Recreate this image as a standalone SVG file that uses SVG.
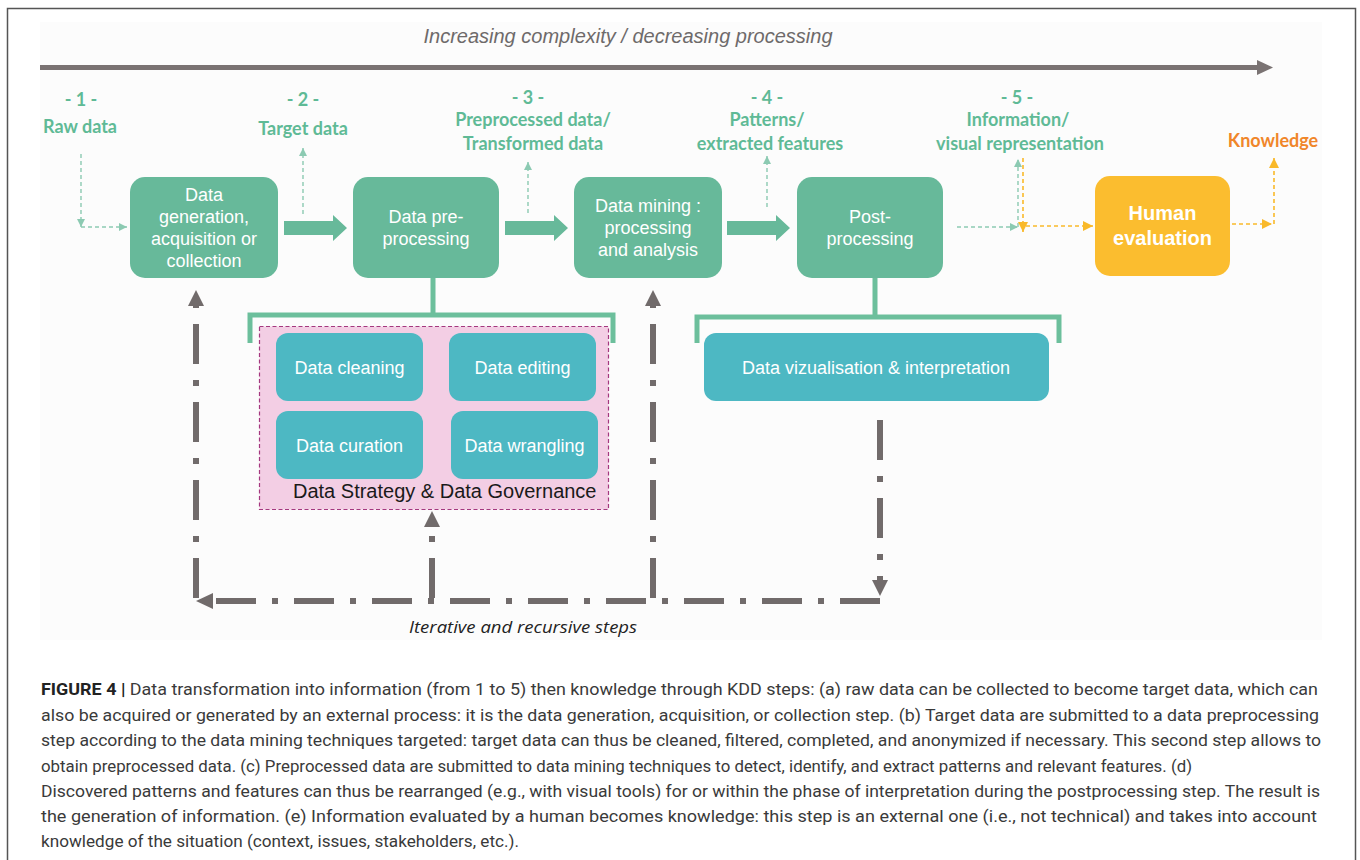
<svg xmlns="http://www.w3.org/2000/svg" width="1360" height="860" viewBox="0 0 1360 860">
<defs>
<style>
.node{fill:#67b99a}
.ntx{font-family:"Liberation Sans",Arial,sans-serif;font-size:18px;fill:#ffffff;text-anchor:middle}
.lbl{font-family:Lato,"Open Sans",sans-serif;font-weight:bold;font-size:18px;fill:#5fba96;text-anchor:middle}
.sub{fill:#4db8c3}
.gdash{fill:none;stroke:#8ccab2;stroke-width:1.4;stroke-dasharray:4 3}
.odash{fill:none;stroke:#f9b92a;stroke-width:1.6;stroke-dasharray:4 3}
.brk{fill:none;stroke:#6cbf9c;stroke-width:5}
.loop{fill:none;stroke:#716b6b;stroke-width:6;stroke-dasharray:40 16 6 16}
.ahead{fill:#716b6b}
.thick{fill:#67b99a}
.cap{font-family:Roboto,"Liberation Sans",sans-serif;font-size:17px;fill:#3a3a3a}
</style>
<marker id="mg" viewBox="0 0 10 10" refX="10" refY="5" markerWidth="8" markerHeight="8" markerUnits="userSpaceOnUse" orient="auto"><path d="M0,0 L10,5 L0,10 z" fill="#8ccab2"/></marker>
<marker id="mo" viewBox="0 0 10 10" refX="10" refY="5" markerWidth="10" markerHeight="10" markerUnits="userSpaceOnUse" orient="auto"><path d="M0,0 L10,5 L0,10 z" fill="#f9b92a"/></marker>
</defs>
<rect x="0" y="0" width="1360" height="860" fill="#ffffff"/>
<rect x="7.5" y="8.5" width="1348" height="870" fill="none" stroke="#555555" stroke-width="1.5"/>
<rect x="40" y="22" width="1282" height="618" fill="#fcfcfc"/>

<g id="title">
<text x="628" y="43" font-family="Liberation Sans,Arial,sans-serif" font-style="italic" font-size="20" fill="#6e6a6a" text-anchor="middle">Increasing complexity / decreasing processing</text>
<line x1="40" y1="67.5" x2="1258" y2="67.5" stroke="#7a7373" stroke-width="5"/>
<polygon points="1257,60 1273,67.5 1257,75" fill="#7a7373"/>
</g>

<g id="labels">
<text class="lbl" x="81" y="106">- 1 -</text>
<text class="lbl" x="80" y="133">Raw data</text>
<text class="lbl" x="303" y="106">- 2 -</text>
<text class="lbl" x="303" y="135">Target data</text>
<text class="lbl" x="528" y="104">- 3 -</text>
<text class="lbl" x="533" y="126">Preprocessed data/</text>
<text class="lbl" x="533" y="150">Transformed data</text>
<text class="lbl" x="767" y="104">- 4 -</text>
<text class="lbl" x="767" y="126">Patterns/</text>
<text class="lbl" x="770" y="150">extracted features</text>
<text class="lbl" x="1017" y="104">- 5 -</text>
<text class="lbl" x="1018" y="126">Information/</text>
<text class="lbl" x="1020" y="150">visual representation</text>
<text class="lbl" x="1273" y="147" style="fill:#f0862a">Knowledge</text>
</g>

<g id="node-generation">
<rect class="node" x="130" y="177" width="148" height="101" rx="15"/>
<text class="ntx" x="204" y="201">Data</text>
<text class="ntx" x="204" y="223">generation,</text>
<text class="ntx" x="204" y="245">acquisition or</text>
<text class="ntx" x="204" y="267">collection</text>
</g>
<g id="node-preprocessing">
<rect class="node" x="353" y="177" width="146" height="101" rx="15"/>
<text class="ntx" x="426" y="223">Data pre-</text>
<text class="ntx" x="426" y="245">processing</text>
</g>
<g id="node-mining">
<rect class="node" x="574" y="177" width="148" height="101" rx="15"/>
<text class="ntx" x="648" y="212">Data mining :</text>
<text class="ntx" x="648" y="234">processing</text>
<text class="ntx" x="648" y="256">and analysis</text>
</g>
<g id="node-postprocessing">
<rect class="node" x="797" y="177" width="146" height="101" rx="15"/>
<text class="ntx" x="870" y="223">Post-</text>
<text class="ntx" x="870" y="245">processing</text>
</g>
<g id="node-human">
<rect x="1095" y="176" width="135" height="100" rx="15" fill="#fbbd2f"/>
<text x="1162.5" y="220" font-family="Liberation Sans,Arial,sans-serif" font-weight="bold" font-size="20" fill="#ffffff" text-anchor="middle">Human</text>
<text x="1162.5" y="245" font-family="Liberation Sans,Arial,sans-serif" font-weight="bold" font-size="20" fill="#ffffff" text-anchor="middle">evaluation</text>
</g>

<g id="governance">
<rect x="259.5" y="326.5" width="349" height="183" fill="#f3cee4" stroke="#a4387f" stroke-width="1.2" stroke-dasharray="4 2.5"/>
<text x="293" y="498" font-family="Liberation Sans,Arial,sans-serif" font-size="20" fill="#1a1a1a">Data Strategy &amp; Data Governance</text>
</g>
<g id="node-cleaning">
<rect class="sub" x="276" y="333" width="147" height="68" rx="12"/>
<text class="ntx" x="349.5" y="374">Data cleaning</text>
</g>
<g id="node-editing">
<rect class="sub" x="449" y="333" width="147" height="68" rx="12"/>
<text class="ntx" x="522.5" y="374">Data editing</text>
</g>
<g id="node-curation">
<rect class="sub" x="276" y="411" width="147" height="68" rx="12"/>
<text class="ntx" x="349.5" y="452">Data curation</text>
</g>
<g id="node-wrangling">
<rect class="sub" x="451" y="411" width="147" height="68" rx="12"/>
<text class="ntx" x="524.5" y="452">Data wrangling</text>
</g>
<g id="node-visualisation">
<rect class="sub" x="704" y="333" width="345" height="68" rx="12"/>
<text class="ntx" x="876" y="374">Data vizualisation &amp; interpretation</text>
</g>

<g id="connectors">
<polygon class="thick" points="284,221 333,221 333,215 347,228 333,241 333,235 284,235"/>
<polygon class="thick" points="505,221 554,221 554,215 568,228 554,241 554,235 505,235"/>
<polygon class="thick" points="727,221 776,221 776,215 790,228 776,241 776,235 727,235"/>
<path class="gdash" d="M81,154 V227" marker-end="url(#mg)"/>
<path class="gdash" d="M81,227 H127" marker-end="url(#mg)"/>
<path class="gdash" d="M303,214 V148" marker-end="url(#mg)"/>
<path class="gdash" d="M528,213 V162" marker-end="url(#mg)"/>
<path class="gdash" d="M767,207 V156" marker-end="url(#mg)"/>
<path class="gdash" d="M957,227 H1018" marker-end="url(#mg)"/>
<path class="gdash" d="M1018,227 V159" marker-end="url(#mg)"/>
<path class="odash" d="M1023,158 V232" marker-end="url(#mo)"/>
<path class="odash" d="M1026,226 H1093" marker-end="url(#mo)"/>
<path class="odash" d="M1232,224 H1272" marker-end="url(#mo)"/>
<path class="odash" d="M1274,224 V158" marker-end="url(#mo)"/>
<path class="brk" d="M433,278 V315"/>
<path class="brk" d="M250,343 V315 H613 V343"/>
<path class="brk" d="M875,278 V317"/>
<path class="brk" d="M697,343 V317 H1059 V343"/>
<path class="loop" d="M880,420 V582"/>
<polygon class="ahead" points="872,580 888,580 880,596"/>
<path class="loop" d="M880,601 H212"/>
<polygon class="ahead" points="213,593 213,609 196,601"/>
<path class="loop" d="M196,598 V306"/>
<polygon class="ahead" points="188,306 204,306 196,290"/>
<path class="loop" d="M653,598 V306"/>
<polygon class="ahead" points="645,306 661,306 653,290"/>
<path class="loop" d="M432,598 V527"/>
<polygon class="ahead" points="424,527 440,527 432,511"/>
</g>

<text x="523" y="633" font-family="Open Sans,Noto Sans,sans-serif" font-style="italic" font-size="16" fill="#222222" text-anchor="middle" textLength="228" lengthAdjust="spacingAndGlyphs">Iterative and recursive steps</text>

<g id="caption">
<text class="cap" x="41" y="695" textLength="1277" lengthAdjust="spacingAndGlyphs"><tspan font-weight="bold" fill="#222222">FIGURE 4 |</tspan> Data transformation into information (from 1 to 5) then knowledge through KDD steps: (a) raw data can be collected to become target data, which can</text>
<text class="cap" x="41" y="720.5" textLength="1278" lengthAdjust="spacingAndGlyphs">also be acquired or generated by an external process: it is the data generation, acquisition, or collection step. (b) Target data are submitted to a data preprocessing</text>
<text class="cap" x="41" y="746" textLength="1280" lengthAdjust="spacingAndGlyphs">step according to the data mining techniques targeted: target data can thus be cleaned, filtered, completed, and anonymized if necessary. This second step allows to</text>
<text class="cap" x="41" y="771.5" textLength="1151" lengthAdjust="spacingAndGlyphs">obtain preprocessed data. (c) Preprocessed data are submitted to data mining techniques to detect, identify, and extract patterns and relevant features. (d)</text>
<text class="cap" x="41" y="797" textLength="1279" lengthAdjust="spacingAndGlyphs">Discovered patterns and features can thus be rearranged (e.g., with visual tools) for or within the phase of interpretation during the postprocessing step. The result is</text>
<text class="cap" x="41" y="822" textLength="1276" lengthAdjust="spacingAndGlyphs">the generation of information. (e) Information evaluated by a human becomes knowledge: this step is an external one (i.e., not technical) and takes into account</text>
<text class="cap" x="41" y="847" textLength="478" lengthAdjust="spacingAndGlyphs">knowledge of the situation (context, issues, stakeholders, etc.).</text>
</g>
</svg>
